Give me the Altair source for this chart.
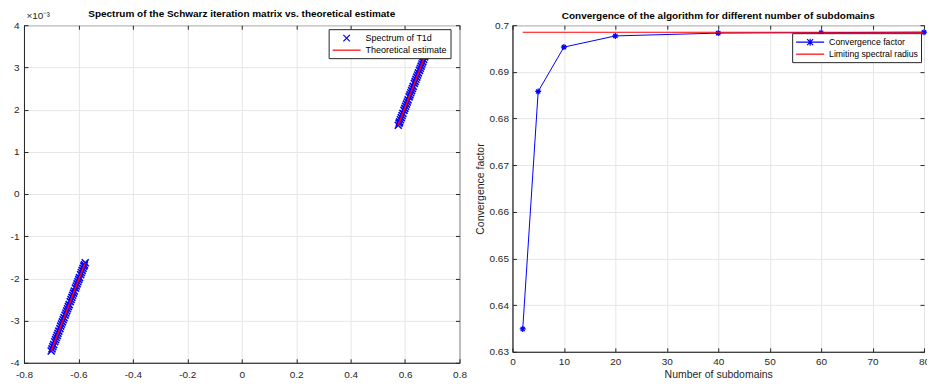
import altair as alt
import pandas as pd

FONT = "Liberation Sans"

# ---------------- left panel data (y values in units of 1e-3) ----------------
spec_neg_x = [-0.700, -0.697, -0.694, -0.691, -0.687, -0.684, -0.681, -0.678, -0.675, -0.672,
              -0.668, -0.665, -0.662, -0.659, -0.656, -0.653, -0.649, -0.646, -0.643, -0.640,
              -0.637, -0.634, -0.630, -0.627, -0.624, -0.621, -0.618, -0.615, -0.611, -0.608,
              -0.605, -0.602, -0.599, -0.596, -0.592, -0.589, -0.586, -0.583, -0.580, -0.578, -0.575]
spec_neg_y = [-3.72, -3.67, -3.62, -3.57, -3.50, -3.45, -3.40, -3.35, -3.30, -3.25,
              -3.19, -3.13, -3.08, -3.03, -2.98, -2.93, -2.87, -2.82, -2.77, -2.72,
              -2.67, -2.62, -2.55, -2.50, -2.45, -2.40, -2.35, -2.30, -2.23, -2.18,
              -2.13, -2.08, -2.03, -1.98, -1.91, -1.86, -1.81, -1.76, -1.71, -1.68, -1.63]
spec_pos_x = [0.575, 0.578, 0.580, 0.583, 0.586, 0.589, 0.592, 0.596, 0.599, 0.602,
              0.605, 0.608, 0.611, 0.615, 0.618, 0.621, 0.624, 0.627, 0.630, 0.634,
              0.637, 0.640, 0.643, 0.646, 0.649, 0.653, 0.656, 0.659, 0.662, 0.665,
              0.668, 0.672, 0.675, 0.678, 0.681, 0.684, 0.687, 0.691, 0.694, 0.697, 0.700]
spec_pos_y = [1.63, 1.68, 1.71, 1.76, 1.81, 1.86, 1.91, 1.98, 2.03, 2.08,
              2.13, 2.18, 2.23, 2.30, 2.35, 2.40, 2.45, 2.50, 2.55, 2.62,
              2.67, 2.72, 2.77, 2.82, 2.87, 2.93, 2.98, 3.03, 3.08, 3.13,
              3.19, 3.25, 3.30, 3.35, 3.40, 3.45, 3.50, 3.57, 3.62, 3.67, 3.72]
theory_x = [-0.700, -0.575, 0.575, 0.700]
theory_y = [-3.72, -1.63, 1.63, 3.72]
theory_seg = ["neg", "neg", "pos", "pos"]
left_series = ["Spectrum of T1d", "Theoretical estimate"]
left_x_ticks = [-0.8, -0.6, -0.4, -0.2, 0, 0.2, 0.4, 0.6, 0.8]
left_y_ticks = [-4, -3, -2, -1, 0, 1, 2, 3, 4]

# ---------------- right panel data ----------------
n_sub = [2, 5, 10, 20, 40, 60, 80]
conv = [0.6349, 0.6858, 0.6953, 0.6977, 0.6983, 0.6984, 0.6985]
limit_x = [2, 80]
limit_y = [0.6985, 0.6985]
right_series = ["Convergence factor", "Limiting spectral radius"]
right_x_ticks = [0, 10, 20, 30, 40, 50, 60, 70, 80]
right_y_ticks = [0.63, 0.64, 0.65, 0.66, 0.67, 0.68, 0.69, 0.7]

BLUE = "#0000ff"
RED = "#ff0000"
AX = "#262626"
X_PATH = "M-1,-1L1,1M-1,1L1,-1"
AST_PATH = "M0,-1L0,1M-1,0L1,0M-0.7,-0.7L0.7,0.7M-0.7,0.7L0.7,-0.7"
LEG_X_PATH = "M-0.65,-0.65L0.65,0.65M-0.65,0.65L0.65,-0.65"
LEG_LINE_PATH = "M-2.8,0L2.8,0"
LEG_AST_PATH = "M-2.8,0L2.8,0M0,-0.7L0,0.7M-0.6,-0.6L0.6,0.6M-0.6,0.6L0.6,-0.6"

num_fmt = "replace(format(datum.value, ''), '\u2212', '-')"


def legend(lx, ly, fs, label_expr=None):
    kw = dict(title=None, orient="none", legendX=lx, legendY=ly,
              symbolSize=100, symbolStrokeWidth=1.2, symbolOffset=9,
              labelOffset=13, labelFont=FONT, labelFontSize=fs, labelColor="black",
              fillColor="white", strokeColor=AX, padding=3, rowPadding=0)
    if label_expr:
        kw["labelExpr"] = label_expr
    return alt.Legend(**kw)


def tick_axis(orient, values):
    # inward-pointing ticks: axis moved inside the frame by its own tick length
    return alt.Axis(orient=orient, values=values, offset=-4, tickSize=4, ticks=True,
                    tickColor=AX, tickWidth=1, labels=False, domain=False, grid=False, title=None)


# ---------------- left chart ----------------
spec_df = pd.DataFrame({"x": spec_neg_x + spec_pos_x, "y": spec_neg_y + spec_pos_y})
theory_df = pd.DataFrame({"x": theory_x, "y": theory_y, "seg": theory_seg})
leg_left_df = pd.DataFrame({"series": left_series})

sxL = alt.Scale(domain=[-0.8, 0.8], nice=False, zero=False)
syL = alt.Scale(domain=[-4, 4], nice=False, zero=False)
xL = alt.X("x:Q", scale=sxL,
           axis=alt.Axis(values=left_x_ticks, title=None, labelExpr=num_fmt, labelPadding=7,
                         labelFlush=False))
yL = alt.Y("y:Q", scale=syL,
           axis=alt.Axis(values=left_y_ticks, labelExpr=num_fmt, labelPadding=5,
                         title="\u00d710\u207b\u00b3", titleAngle=0, titleAlign="left",
                         titleBaseline="bottom", titleX=2, titleY=-5, titleFontSize=10))

spec_layer = alt.Chart(spec_df).mark_point(shape=X_PATH, size=49, filled=False,
                                           color=BLUE, strokeWidth=1.6, opacity=1).encode(x=xL, y=yL)
theory_layer = alt.Chart(theory_df).mark_line(color=RED, strokeWidth=1.6).encode(
    x=alt.X("x:Q", axis=tick_axis("bottom", left_x_ticks)),
    y=alt.Y("y:Q", axis=tick_axis("left", left_y_ticks)),
    detail="seg:N")
frame_left = alt.Chart(theory_df).mark_line(opacity=0).encode(
    x=alt.X("x:Q", axis=tick_axis("top", left_x_ticks)),
    y=alt.Y("y:Q", axis=tick_axis("right", left_y_ticks)),
    detail="seg:N")
leg_left = alt.Chart(leg_left_df).mark_point(filled=False, opacity=0).encode(
    color=alt.Color("series:N", scale=alt.Scale(domain=left_series, range=[BLUE, RED]),
                    legend=legend(305, 4, 9)),
    shape=alt.Shape("series:N", scale=alt.Scale(domain=left_series, range=[LEG_X_PATH, LEG_LINE_PATH]),
                    legend=legend(305, 4, 9)),
)
left = alt.layer(spec_layer, theory_layer, frame_left, leg_left).resolve_axis(
    x="independent", y="independent"
).properties(
    width=436, height=338,
    title=alt.Title("Spectrum of the Schwarz iteration matrix vs. theoretical estimate", offset=-9),
)

# ---------------- right chart ----------------
conv_df = pd.DataFrame({"n": n_sub, "c": conv})
limit_df = pd.DataFrame({"n": limit_x, "c": limit_y})
leg_right_df = pd.DataFrame({"series": right_series})

xR = alt.X("n:Q", scale=alt.Scale(domain=[0, 80], nice=False, zero=False),
           axis=alt.Axis(values=right_x_ticks, title="Number of subdomains", labelPadding=5,
                         titlePadding=3, labelFlush=False, labelExpr=num_fmt))
yR = alt.Y("c:Q", scale=alt.Scale(domain=[0.63, 0.7], nice=False, zero=False),
           axis=alt.Axis(values=right_y_ticks, title="Convergence factor", labelPadding=4,
                         titlePadding=4, labelExpr=num_fmt))

conv_line = alt.Chart(conv_df).mark_line(color=BLUE, strokeWidth=1).encode(x=xR, y=yR)
conv_pts = alt.Chart(conv_df).mark_point(shape=AST_PATH, size=36, filled=False, color=BLUE,
                                         strokeWidth=1.2, opacity=1).encode(
    x=alt.X("n:Q", axis=tick_axis("bottom", right_x_ticks)),
    y=alt.Y("c:Q", axis=tick_axis("left", right_y_ticks)))
limit_line = alt.Chart(limit_df).mark_line(color=RED, strokeWidth=1.1).encode(
    x=alt.X("n:Q", axis=tick_axis("top", right_x_ticks)),
    y=alt.Y("c:Q", axis=tick_axis("right", right_y_ticks)))
pad_expr = "datum.label + '\u00a0\u00a0\u00a0\u00a0'"
leg_right = alt.Chart(leg_right_df).mark_point(filled=False, opacity=0).encode(
    color=alt.Color("series:N", scale=alt.Scale(domain=right_series, range=[BLUE, RED]),
                    legend=legend(280, 8, 8.7, pad_expr)),
    shape=alt.Shape("series:N", scale=alt.Scale(domain=right_series, range=[LEG_AST_PATH, LEG_LINE_PATH]),
                    legend=legend(280, 8, 8.7, pad_expr)),
)
right = alt.layer(conv_line, conv_pts, limit_line, leg_right).resolve_axis(
    x="independent", y="independent"
).properties(
    width=412, height=327,
    title=alt.Title("Convergence of the algorithm for different number of subdomains", offset=-1),
)

chart = alt.hconcat(left, right, spacing=7).resolve_scale(color="independent", shape="independent").properties(
    padding={"left": 1, "top": 0, "right": -4, "bottom": -1}, background="white"
).configure_axis(
    grid=True, gridColor="#e6e6e6", gridWidth=1, domainColor=AX, domainWidth=1,
    ticks=False, labelFont=FONT, labelFontSize=10, labelColor=AX,
    titleFont=FONT, titleFontSize=10.5, titleFontWeight="normal", titleColor=AX,
).configure_view(stroke=AX, strokeWidth=1).configure_title(
    font=FONT, fontSize=10, fontWeight="bold", color="black", anchor="middle"
)

chart.save("out.html", embed_options={"renderer": "svg", "actions": False})
